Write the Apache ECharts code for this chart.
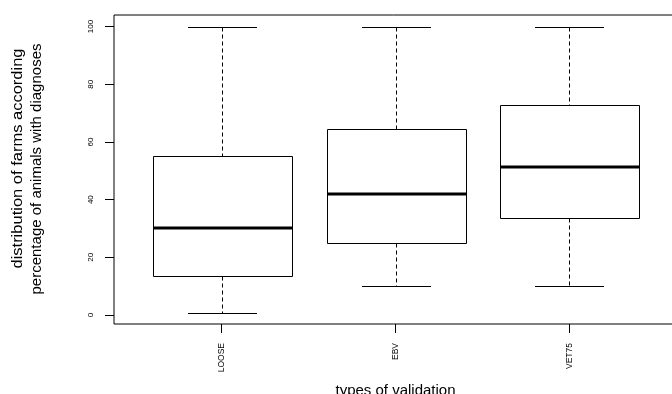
<!DOCTYPE html>
<html>
<head>
<meta charset="utf-8">
<script src="https://cdn.jsdelivr.net/npm/echarts@6/dist/echarts.min.js"></script>
<style>
html,body{margin:0;padding:0;background:#fff;}
#chart{width:672px;height:394px;}
</style>
</head>
<body>
<div id="chart"></div>
<script>
// ---- data ----
const categories = ['LOOSE', 'EBV', 'VET75'];
const lowerWhisker = [0.8, 10, 10];
const q1 = [13.7, 25.1, 33.5];
const median = [30.2, 41.8, 51.2];
const q3 = [55.0, 64.5, 72.8];
const upperWhisker = [100, 100, 100];
const yTicks = [0, 20, 40, 60, 80, 100];
const xTitle = 'types of validation';
const yTitle1 = 'distribution of farms according';
const yTitle2 = 'percentage of animals with diagnoses';

// ---- drawing ----
const FONT = '"Liberation Sans", Arial, Helvetica, sans-serif';
const BOX_W = 0.8, STAPLE_W = 0.4;
const catPos = categories.map((c, i) => i + 1);
const boxData = categories.map((c, i) => [catPos[i], lowerWhisker[i], q1[i], median[i], q3[i], upperWhisker[i]]);

const chart = echarts.init(document.getElementById('chart'), null, {renderer: 'canvas'});

function px(v) { return Math.round(v) + 0.5; }

const option = {
  animation: false,
  backgroundColor: '#fff',
  grid: {
    left: 114, top: 15, right: -5, bottom: 70,
    show: true, borderColor: '#000', borderWidth: 1, backgroundColor: 'transparent',
    containLabel: false, outerBoundsMode: 'none'
  },
  xAxis: {
    type: 'value', min: 0.38, max: 3.62,
    splitLine: {show: false},
    axisLine: {show: false, onZero: false},
    axisTick: {show: true, inside: false, customValues: catPos, length: 9, lineStyle: {color: '#000', width: 1}},
    axisLabel: {
      customValues: catPos,
      formatter: v => categories[Math.round(v) - 1] || '',
      rotate: 90, fontSize: 8.5, margin: 19, color: '#000', fontFamily: FONT
    },
    name: xTitle, nameLocation: 'middle', nameGap: 59,
    nameTextStyle: {fontSize: 15, color: '#000', fontFamily: FONT}
  },
  yAxis: {
    type: 'value', min: -3.1, max: 104,
    splitLine: {show: false},
    axisLine: {show: false, onZero: false},
    axisTick: {show: true, inside: false, customValues: yTicks, length: 9, lineStyle: {color: '#000', width: 1}},
    axisLabel: {
      customValues: yTicks,
      rotate: 90, fontSize: 8, margin: 19, color: '#000', fontFamily: FONT
    }
  },
  graphic: [
    {type: 'text', x: 18, y: 158.5, rotation: Math.PI / 2, scaleX: 1.1,
     style: {text: yTitle1, fontSize: 15, fontFamily: FONT, fill: '#000', align: 'center', verticalAlign: 'middle'}},
    {type: 'text', x: 37, y: 169, rotation: Math.PI / 2,
     style: {text: yTitle2, fontSize: 15, fontFamily: FONT, fill: '#000', align: 'center', verticalAlign: 'middle'}}
  ],
  series: [{
    type: 'custom',
    coordinateSystem: 'cartesian2d',
    data: boxData,
    encode: {x: 0, y: [1, 2, 3, 4, 5]},
    renderItem: function (params, api) {
      const x = api.value(0);
      const cx = px(api.coord([x, 0])[0]);
      const half = api.size([BOX_W, 0])[0] / 2;
      const sHalf = api.size([STAPLE_W, 0])[0] / 2;
      const yLw = px(api.coord([x, api.value(1)])[1]);
      const yQ1 = px(api.coord([x, api.value(2)])[1]);
      const yMed = api.coord([x, api.value(3)])[1];
      const yQ3 = px(api.coord([x, api.value(4)])[1]);
      const yUw = px(api.coord([x, api.value(5)])[1]);
      const left = px(cx - half), right = px(cx + half);
      const dash = {stroke: '#000', lineWidth: 1, lineDash: [4, 3]};
      const solid = {stroke: '#000', lineWidth: 1};
      return {
        type: 'group',
        children: [
          {type: 'line', shape: {x1: cx, y1: yUw, x2: cx, y2: yQ3}, style: dash},
          {type: 'line', shape: {x1: cx, y1: yQ1, x2: cx, y2: yLw}, style: dash},
          {type: 'line', shape: {x1: Math.round(cx - sHalf), y1: yUw, x2: Math.round(cx + sHalf), y2: yUw}, style: solid},
          {type: 'line', shape: {x1: Math.round(cx - sHalf), y1: yLw, x2: Math.round(cx + sHalf), y2: yLw}, style: solid},
          {type: 'rect', shape: {x: left, y: yQ3, width: right - left, height: yQ1 - yQ3}, style: {fill: 'rgba(0,0,0,0)', stroke: '#000', lineWidth: 1}},
          {type: 'line', shape: {x1: left, y1: Math.round(yMed), x2: right, y2: Math.round(yMed)}, style: {stroke: '#000', lineWidth: 3}}
        ]
      };
    }
  }]
};
chart.setOption(option);
</script>
</body>
</html>
